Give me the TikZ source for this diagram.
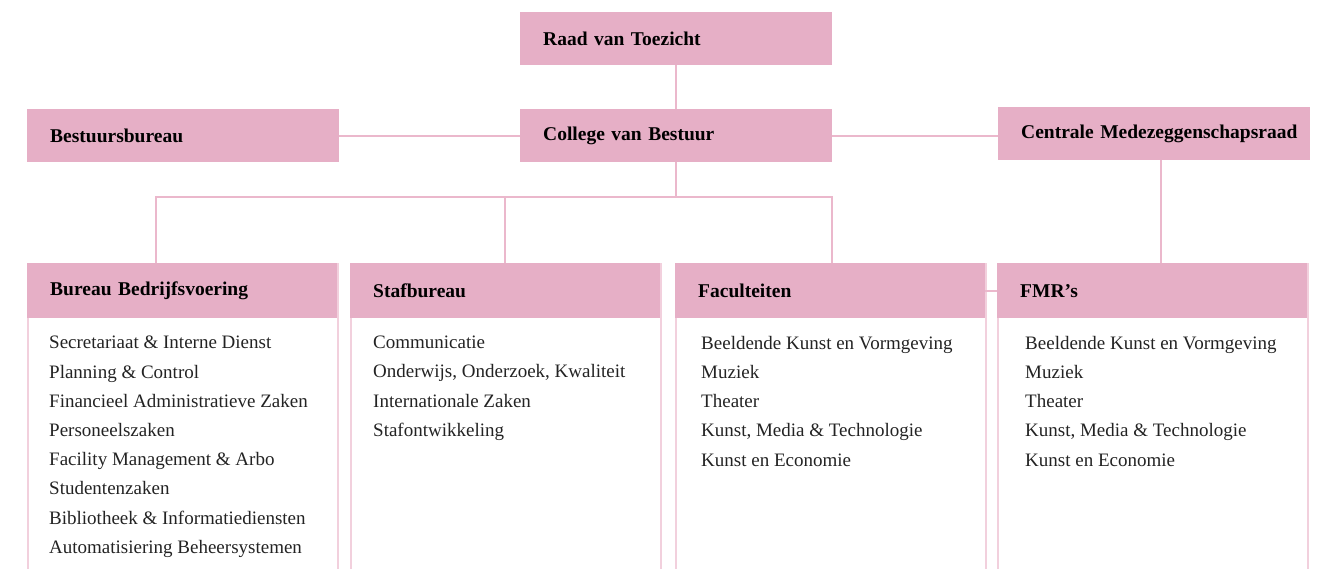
\documentclass[tikz,border=0pt]{standalone}
\usepackage{fontspec}
\setmainfont{Liberation Serif}
\usetikzlibrary{positioning,calc}

\definecolor{headpink}{RGB}{230,175,198}
\definecolor{linkpink}{RGB}{235,184,204}
\definecolor{edgepink}{RGB}{242,208,221}
\definecolor{bodytext}{RGB}{35,35,35}

\begin{document}
\begin{tikzpicture}[
    x=1pt, y=-1pt,
    head/.style={rectangle, fill=headpink, anchor=north west, minimum width=312pt, minimum height=53pt,
        inner xsep=23pt, text width=266pt, align=left, font=\fontsize{19.5}{22}\selectfont\bfseries},
    colhead/.style={head, minimum width=310pt, text width=264pt, inner xsep=22pt, minimum height=55pt},
    colbody/.style={rectangle, draw=edgepink, line width=1.5pt, anchor=north west, minimum width=310pt, minimum height=330pt},
    items/.style={anchor=north west, inner sep=0pt, align=left, text=bodytext,
        font=\fontsize{19}{29.2}\selectfont},
    link/.style={draw=linkpink, line width=2pt}
]
\useasboundingbox (0,0) rectangle (1322,569);

% Top level
\node[head] (raad) at (520,12) {Raad van Toezicht};
\node[head] (college) at (520,109) {College van Bestuur};
\node[head] (bestuur) at (27,109) {Bestuursbureau};
\node[head] (cmr) at (998,107) {\mbox{Centrale Medezeggenschapsraad}};

% Column bodies
\node[colbody] (bbvbody) at (27,263) {};
\node[colbody] (stafbody) at (350,263) {};
\node[colbody] (facbody) at (675,263) {};
\node[colbody] (fmrbody) at (997,263) {};

% Column headers
\node[colhead] (bbv) at (27,263) {Bureau Bedrijfsvoering};
\node[colhead] (staf) at (350,263) {Stafbureau};
\node[colhead] (fac) at (675,263) {Faculteiten};
\node[colhead] (fmr) at (997,263) {FMR’s};

% Lists
\node[items] (bbvlist) at (49,336) {Secretariaat \& Interne Dienst\\Planning \& Control\\Financieel Administratieve Zaken\\Personeelszaken\\Facility Management \& Arbo\\Studentenzaken\\Bibliotheek \& Informatiediensten\\Automatisiering Beheersystemen};
\node[items] (staflist) at (373,336) {Communicatie\\Onderwijs, Onderzoek, Kwaliteit\\Internationale Zaken\\Stafontwikkeling};
\node[items] (faclist) at (701,336) {Beeldende Kunst en Vormgeving\\Muziek\\Theater\\Kunst, Media \& Technologie\\Kunst en Economie};
\node[items] (fmrlist) at (1025,336) {Beeldende Kunst en Vormgeving\\Muziek\\Theater\\Kunst, Media \& Technologie\\Kunst en Economie};

% Connectors
\coordinate (busL) at (156,197);
\coordinate (busR) at (832,197);
\draw[link] (raad) -- (college);
\draw[link] (bestuur.east) -- (college.west);
\draw[link] (college.east) -- (college.east -| cmr.west);
\draw[link] (college.south) -- (college.south |- busL);
\draw[link] (busL |- bbv.north) -- (busL) -- (busR) -- (busR |- fac.north);
\draw[link] (staf.north) -- (staf.north |- busL);
\draw[link] (fac.east) -- (fmr.west);
\draw[link] ([xshift=7pt]cmr.south) -- ([xshift=7pt]cmr.south |- fmr.north);

\end{tikzpicture}
\end{document}
